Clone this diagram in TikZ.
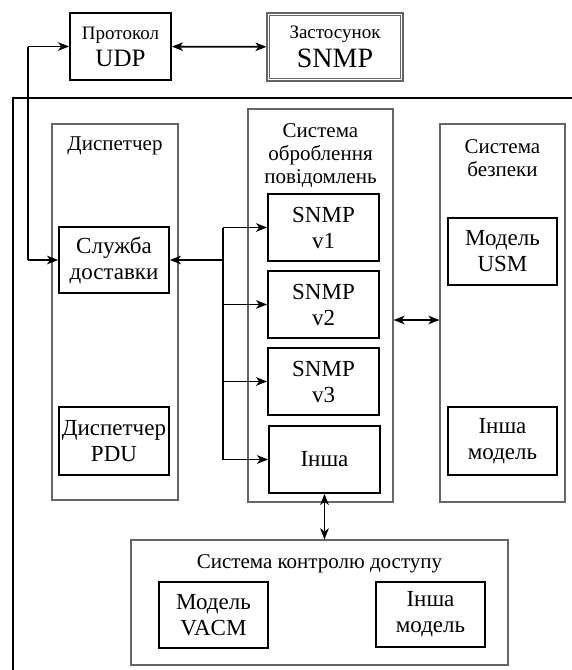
\documentclass[tikz,border=0pt]{standalone}
\usepackage{fontspec}
\setmainfont{Liberation Serif}
\usetikzlibrary{arrows.meta}
\tikzset{
  Tp/.tip={Stealth[length=11pt,width=8.5pt,inset=3pt]},
  inbox/.style={draw, line width=1.8pt, inner sep=0pt, align=center, font=\fontsize{23}{26}\selectfont},
  topbox/.style={inbox, font=\fontsize{19}{24}\selectfont},
  cont/.style={draw=black!60, line width=1.1pt, inner sep=0pt},
  title/.style={align=center, font=\fontsize{21}{23}\selectfont, inner sep=0pt, anchor=north},
  arr/.style={line width=1.8pt, -Tp},
  darr/.style={line width=1.8pt, Tp-Tp}}
\begin{document}
\begin{tikzpicture}[x=1pt,y=-1pt]
\useasboundingbox (0,0) rectangle (572,670);
% outer frame (clipped by picture edge)
\coordinate (fbl) at (13,670);
\coordinate (ftl) at (13,98);
\coordinate (ftr) at (572,98);
\draw[line width=1.1pt] (fbl) -- (ftl) -- (ftr);
% top boxes
\node[topbox, minimum width=101pt, minimum height=67pt] (udp) at (120.5,46.5) {Протокол\\[3pt]{\fontsize{25}{26}\selectfont UDP}};
\node[topbox, draw=black!60, line width=1.1pt, minimum width=136pt, minimum height=68pt] (app) at (335,47) {Застосунок\\[5pt]{\fontsize{28}{28}\selectfont SNMP}};
\draw[black!60, line width=1.1pt] ([shift={(2.8,2.8)}]app.north west) rectangle ([shift={(-2.8,-2.8)}]app.south east);
% containers
\node[cont, minimum width=126pt, minimum height=376pt] (disp) at (115,312) {};
\node[cont, minimum width=145pt, minimum height=393pt] (mid) at (320.5,305.5) {};
\node[cont, minimum width=125pt, minimum height=378pt] (sec) at (502.5,313) {};
\node[cont, minimum width=377pt, minimum height=125pt] (acc) at (319.5,602.5) {};
% titles
\node[title] (tdisp) at (115,137) {Диспетчер};
\node[title] (tmid) at (320.5,123) {Система\\оброблення\\повідомлень};
\node[title] (tsec) at (502.5,139) {Система\\безпеки};
\node[title] (tacc) at (319.5,554) {Система контролю доступу};
% inner boxes
\node[inbox, minimum width=110pt, minimum height=66pt] (sl) at (114,260) {Служба\\доставки};
\node[inbox, minimum width=110pt, minimum height=68pt] (pdu) at (114,441) {Диспетчер\\PDU};
\node[inbox, minimum width=111pt, minimum height=67pt] (v1) at (323.5,227.5) {SNMP\\v1};
\node[inbox, minimum width=111pt, minimum height=67pt] (v2) at (323.5,304.5) {SNMP\\v2};
\node[inbox, minimum width=111pt, minimum height=67pt] (v3) at (323.5,381.5) {SNMP\\v3};
\node[inbox, minimum width=111pt, minimum height=67pt] (v4) at (324.5,459.5) {Інша};
\node[inbox, minimum width=109pt, minimum height=67pt] (usm) at (502.5,251.5) {Модель\\USM};
\node[inbox, minimum width=109pt, minimum height=68pt] (oth1) at (502.5,441) {Інша\\модель};
\node[inbox, minimum width=109pt, minimum height=66pt] (vacm) at (213.5,615) {Модель\\VACM};
\node[inbox, minimum width=109pt, minimum height=65pt] (oth2) at (430.5,614.5) {Інша\\модель};
% connectors
\draw[darr] (udp) -- (app);
\coordinate (lt) at (28,46.5);
\coordinate (lb) at (28,260);
\draw[line width=1.1pt] (lt) -- (lb);
\draw[arr] (lt) -- (udp.west);
\draw[arr] (lb) -- (sl.west);
\coordinate (j) at (223,260);
\coordinate (jt) at (223,227.5);
\coordinate (jb) at (223,459.5);
\draw[line width=1.8pt] (jt) -- (jb);
\draw[arr] (j) -- (sl.east);
\draw[arr] (jt) -- (v1.west);
\draw[arr] (jt |- v2.west) -- (v2.west);
\draw[arr] (jt |- v3.west) -- (v3.west);
\draw[arr] (jb) -- (v4.west);
\coordinate (yref) at (0,320);
\draw[darr] (mid.east |- yref) -- (sec.west |- yref);
\draw[darr] (v4.south) -- (v4.south |- acc.north);
\end{tikzpicture}
\end{document}
